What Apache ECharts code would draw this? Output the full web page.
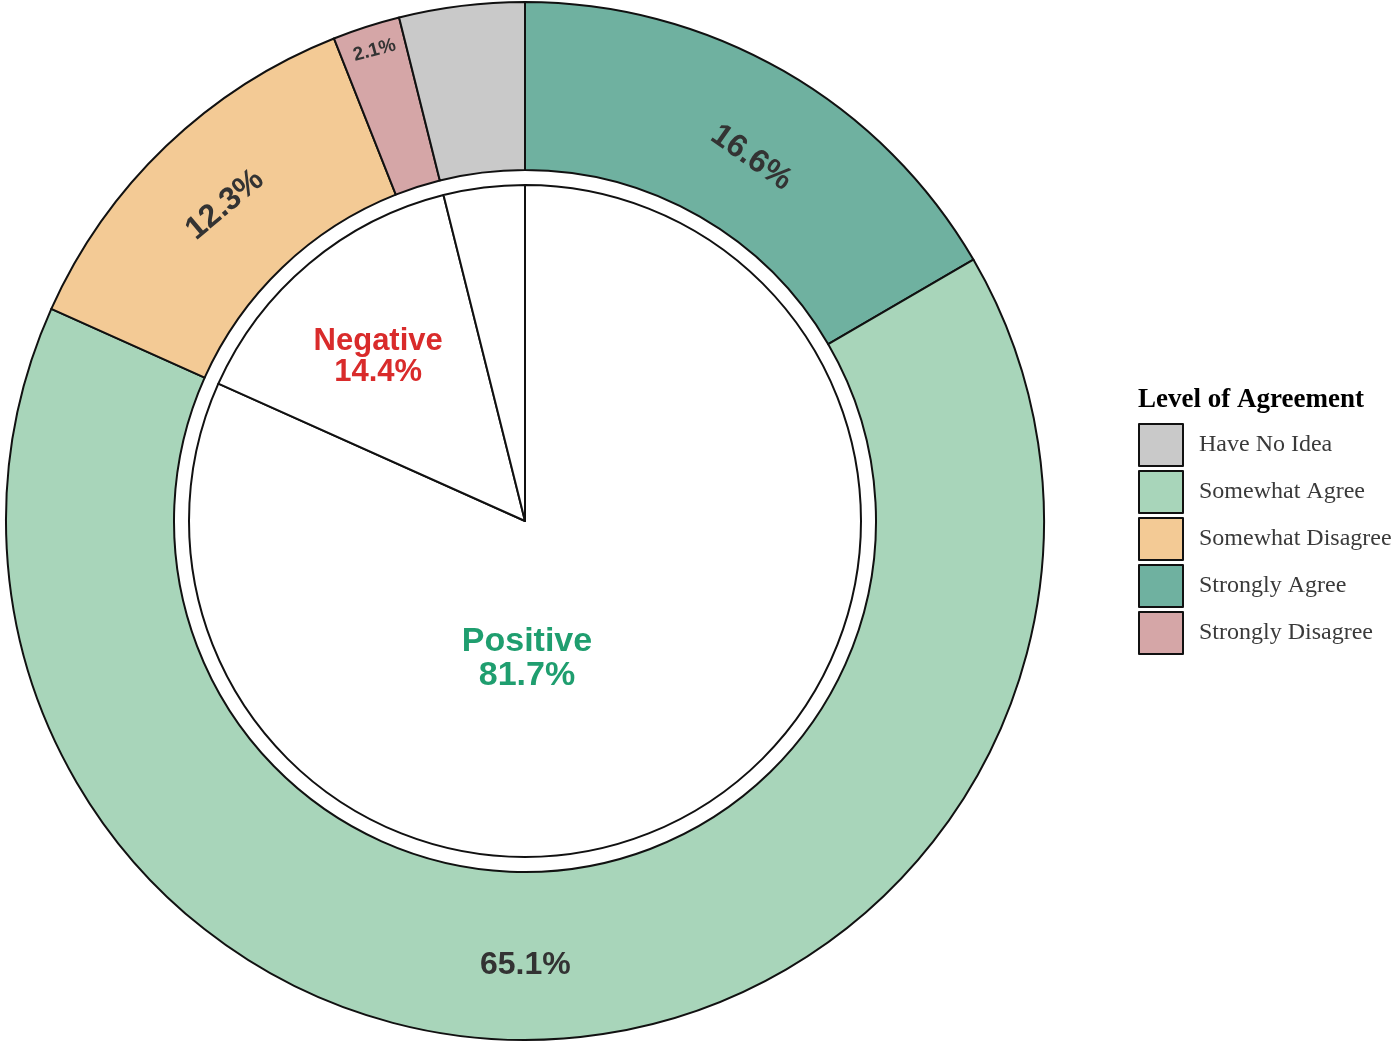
<!DOCTYPE html>
<html lang="en">
  <head>
    <meta charset="UTF-8" />
    <title>Level of Agreement</title>
    <script src="https://cdn.jsdelivr.net/npm/echarts@6/dist/echarts.min.js"></script>
  </head>
  <style>
    html,
    body {
      margin: 0;
      padding: 0;
      background: #fff;
    }
    #echart {
      width: 1400px;
      height: 1046px;
    }
  </style>
  <body>
    <div id="echart"></div>
  </body>
  <script>
    // outer ring, clockwise from 12 o'clock
    const levels = ["Strongly Agree", "Somewhat Agree", "Somewhat Disagree", "Strongly Disagree", "Have No Idea"];
    const levelValues = [16.6, 65.1, 12.3, 2.1, 3.9];
    const levelColors = ["#6fb1a0", "#a8d5ba", "#f3ca95", "#d5a6a7", "#c9c9c9"];

    // inner pie
    const groups = ["Positive", "Negative", "None"];
    const groupValues = [81.7, 14.4, 3.9];
    const groupColors = ["#1f9e6f", "#d92b2b", "#000"];

    const legendOrder = ["Have No Idea", "Somewhat Agree", "Somewhat Disagree", "Strongly Agree", "Strongly Disagree"];

    const chart = echarts.init(document.getElementById("echart"));

    // per-slice label tweaks (rotation / nudge) to sit like the reference
    const levelLabelRotate = [-35, 0, 40, 15, "tangential"];
    const levelLabelOffset = [[16, 9], [-23, 7], [2, 2], [-2, -56], [0, 0]];

    const outerData = levels.map((name, i) => ({
      name: name,
      value: levelValues[i],
      itemStyle: { color: levelColors[i] },
      label: {
        show: name !== "Have No Idea",
        fontSize: levelValues[i] < 5 ? 19 : 32,
        rotate: levelLabelRotate[i],
        offset: levelLabelOffset[i],
      },
    }));

    const groupOffsets = [[-91, -6], [-37, -33], [0, 0]];
    const groupSizes = [34, 31, 0];

    const innerData = groups.map((name, i) => ({
      name: name,
      value: groupValues[i],
      itemStyle: { color: "#fff" },
      label: {
        show: name !== "None",
        color: groupColors[i],
        fontSize: groupSizes[i],
        lineHeight: groupSizes[i] * 1.02,
        offset: groupOffsets[i],
      },
    }));

    const option = {
      animation: false,
      title: {
        text: "Level of Agreement",
        left: 1133,
        top: 382,
        textStyle: {
          fontFamily: "Liberation Serif",
          fontWeight: "bold",
          fontSize: 27,
          color: "#000",
        },
      },
      legend: {
        data: legendOrder,
        orient: "vertical",
        left: 1133,
        top: 418,
        itemWidth: 44,
        itemHeight: 42,
        itemGap: 3,
        icon: "rect",
        selectedMode: false,
        textStyle: {
          fontFamily: "Liberation Serif",
          fontSize: 24,
          color: "#3a3a3a",
          padding: [12, 0, 0, 11],
        },
      },
      series: [
        {
          name: "Level",
          type: "pie",
          center: [525, 521],
          radius: [351, 519],
          startAngle: 90,
          clockwise: true,
          silent: true,
          itemStyle: {
            borderColor: "#111",
            borderWidth: 2,
          },
          label: {
            position: "inside",
            rotate: "tangential",
            formatter: (p) => p.value.toFixed(1) + "%",
            fontFamily: "Liberation Sans",
            fontWeight: "bold",
            color: "#333",
          },
          labelLine: { show: false },
          data: outerData,
        },
        {
          name: "Group",
          type: "pie",
          center: [525, 521],
          radius: [0, 336],
          startAngle: 90,
          clockwise: true,
          silent: true,
          itemStyle: {
            borderColor: "#111",
            borderWidth: 2,
          },
          label: {
            position: "inside",
            formatter: (p) => p.name + "\n" + p.value.toFixed(1) + "%",
            fontFamily: "Liberation Sans",
            fontWeight: "bold",
          },
          labelLine: { show: false },
          data: innerData,
        },
      ],
    };

    chart.setOption(option);
  </script>
</html>
